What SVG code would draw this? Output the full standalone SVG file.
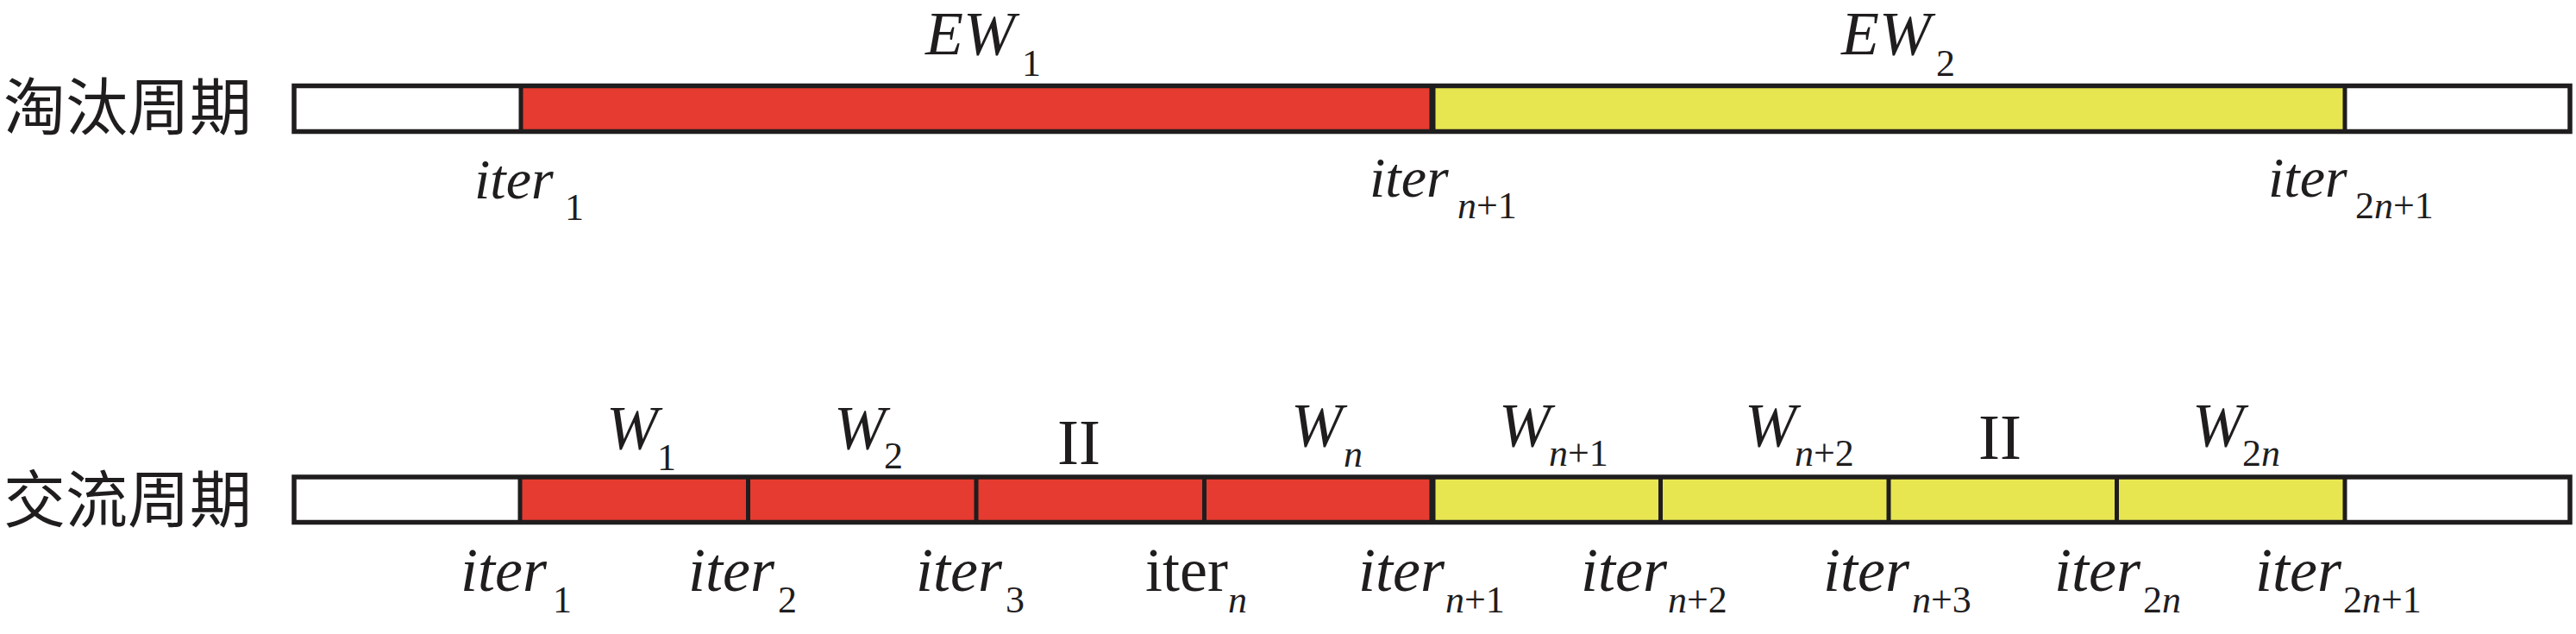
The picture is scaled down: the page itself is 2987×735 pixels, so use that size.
<svg xmlns="http://www.w3.org/2000/svg" width="2987" height="735" viewBox="0 0 2987 735">
<style>
.bg{fill:#ffffff}
.red{fill:#E53B30}
.yel{fill:#E8E650}
.wht{fill:#ffffff}
.frame{fill:none;stroke:#1f1d1e;stroke-width:5.5}
.div{stroke:#1f1d1e;stroke-width:5}
.divb{stroke:#1f1d1e;stroke-width:7}
.cjk{font-family:"Noto Sans CJK SC",sans-serif;font-size:72px;fill:#1f1d1e}
.it{font-family:"Liberation Serif",serif;font-style:italic;font-size:72px;fill:#1f1d1e}
.itt{font-family:"Liberation Serif",serif;font-style:italic;font-size:66px;fill:#1f1d1e}
.rm{font-family:"Liberation Serif",serif;font-size:72px;fill:#1f1d1e}
.rmII{font-family:"Liberation Serif",serif;font-size:75px;fill:#1f1d1e}
.sub{font-family:"Liberation Serif",serif;font-size:44px;fill:#1f1d1e}
.si{font-style:italic}
</style>
<rect class="bg" x="0" y="0" width="2987" height="735"/>

<g id="row-elimination">
  <text class="cjk" x="4" y="150">淘汰周期</text>
  <g id="top-bar">
    <rect class="wht" x="341" y="100" width="262" height="52"/>
    <rect class="red" x="603" y="100" width="1058" height="52"/>
    <rect class="yel" x="1661" y="100" width="1058" height="52"/>
    <rect class="wht" x="2719" y="100" width="261" height="52"/>
    <line class="div" x1="604" y1="99" x2="604" y2="153"/>
    <line class="divb" x1="1661" y1="99" x2="1661" y2="153"/>
    <line class="div" x1="2719" y1="99" x2="2719" y2="153"/>
    <rect class="frame" x="341" y="99.5" width="2639" height="53"/>
  </g>
  <g id="EW1"><text class="it" x="1073" y="63">EW</text><text class="sub" x="1185" y="88">1</text></g>
  <g id="EW2"><text class="it" x="2135" y="63">EW</text><text class="sub" x="2245" y="88">2</text></g>
  <g id="t-iter1"><text class="itt" x="550" y="230">iter</text><text class="sub" x="655" y="255">1</text></g>
  <g id="t-itern1"><text class="itt" x="1588" y="228">iter</text><text class="sub" x="1690" y="253"><tspan class="si">n</tspan>+1</text></g>
  <g id="t-iter2n1"><text class="itt" x="2630" y="228">iter</text><text class="sub" x="2731" y="253">2<tspan class="si">n</tspan>+1</text></g>
</g>

<g id="row-exchange">
  <text class="cjk" x="4" y="605">交流周期</text>
  <g id="bottom-bar">
    <rect class="wht" x="341" y="553" width="262" height="52.5"/>
    <rect class="red" x="603" y="553" width="1058" height="52.5"/>
    <rect class="yel" x="1661" y="553" width="1058" height="52.5"/>
    <rect class="wht" x="2719" y="553" width="261" height="52.5"/>
    <line class="div" x1="603" y1="552" x2="603" y2="607"/>
    <line class="div" x1="867.5" y1="552" x2="867.5" y2="607"/>
    <line class="div" x1="1132" y1="552" x2="1132" y2="607"/>
    <line class="div" x1="1396.5" y1="552" x2="1396.5" y2="607"/>
    <line class="divb" x1="1661" y1="552" x2="1661" y2="607"/>
    <line class="div" x1="1925.5" y1="552" x2="1925.5" y2="607"/>
    <line class="div" x1="2190" y1="552" x2="2190" y2="607"/>
    <line class="div" x1="2454.5" y1="552" x2="2454.5" y2="607"/>
    <line class="div" x1="2719" y1="552" x2="2719" y2="607"/>
    <rect class="frame" x="341" y="553" width="2639" height="52.5"/>
  </g>
  <g id="W1"><text class="it" x="703" y="520">W</text><text class="sub" x="762" y="545">1</text></g>
  <g id="W2"><text class="it" x="967" y="520">W</text><text class="sub" x="1025" y="543">2</text></g>
  <g id="dots1"><text class="rmII" x="1226" y="538">II</text></g>
  <g id="Wn"><text class="it" x="1497" y="517">W</text><text class="sub" x="1558" y="541"><tspan class="si">n</tspan></text></g>
  <g id="Wn1"><text class="it" x="1738" y="517">W</text><text class="sub" x="1796" y="540"><tspan class="si">n</tspan>+1</text></g>
  <g id="Wn2"><text class="it" x="2023" y="517">W</text><text class="sub" x="2081" y="540"><tspan class="si">n</tspan>+2</text></g>
  <g id="dots2"><text class="rmII" x="2294" y="532">II</text></g>
  <g id="W2n"><text class="it" x="2542" y="517">W</text><text class="sub" x="2600" y="540">2<tspan class="si">n</tspan></text></g>

  <g id="b-iter1"><text class="it" x="534" y="685">iter</text><text class="sub" x="641" y="710">1</text></g>
  <g id="b-iter2"><text class="it" x="798" y="685">iter</text><text class="sub" x="902" y="710">2</text></g>
  <g id="b-iter3"><text class="it" x="1062" y="685">iter</text><text class="sub" x="1166" y="710">3</text></g>
  <g id="b-itern"><text class="rm" x="1328" y="685">iter</text><text class="sub" x="1424" y="710"><tspan class="si">n</tspan></text></g>
  <g id="b-itern1"><text class="it" x="1575" y="685">iter</text><text class="sub" x="1676" y="710"><tspan class="si">n</tspan>+1</text></g>
  <g id="b-itern2"><text class="it" x="1833" y="685">iter</text><text class="sub" x="1934" y="710"><tspan class="si">n</tspan>+2</text></g>
  <g id="b-itern3"><text class="it" x="2114" y="685">iter</text><text class="sub" x="2217" y="710"><tspan class="si">n</tspan>+3</text></g>
  <g id="b-iter2n"><text class="it" x="2382" y="685">iter</text><text class="sub" x="2485" y="710">2<tspan class="si">n</tspan></text></g>
  <g id="b-iter2n1"><text class="it" x="2615" y="685">iter</text><text class="sub" x="2717" y="710">2<tspan class="si">n</tspan>+1</text></g>
</g>
<g id="connectors"/>
</svg>
